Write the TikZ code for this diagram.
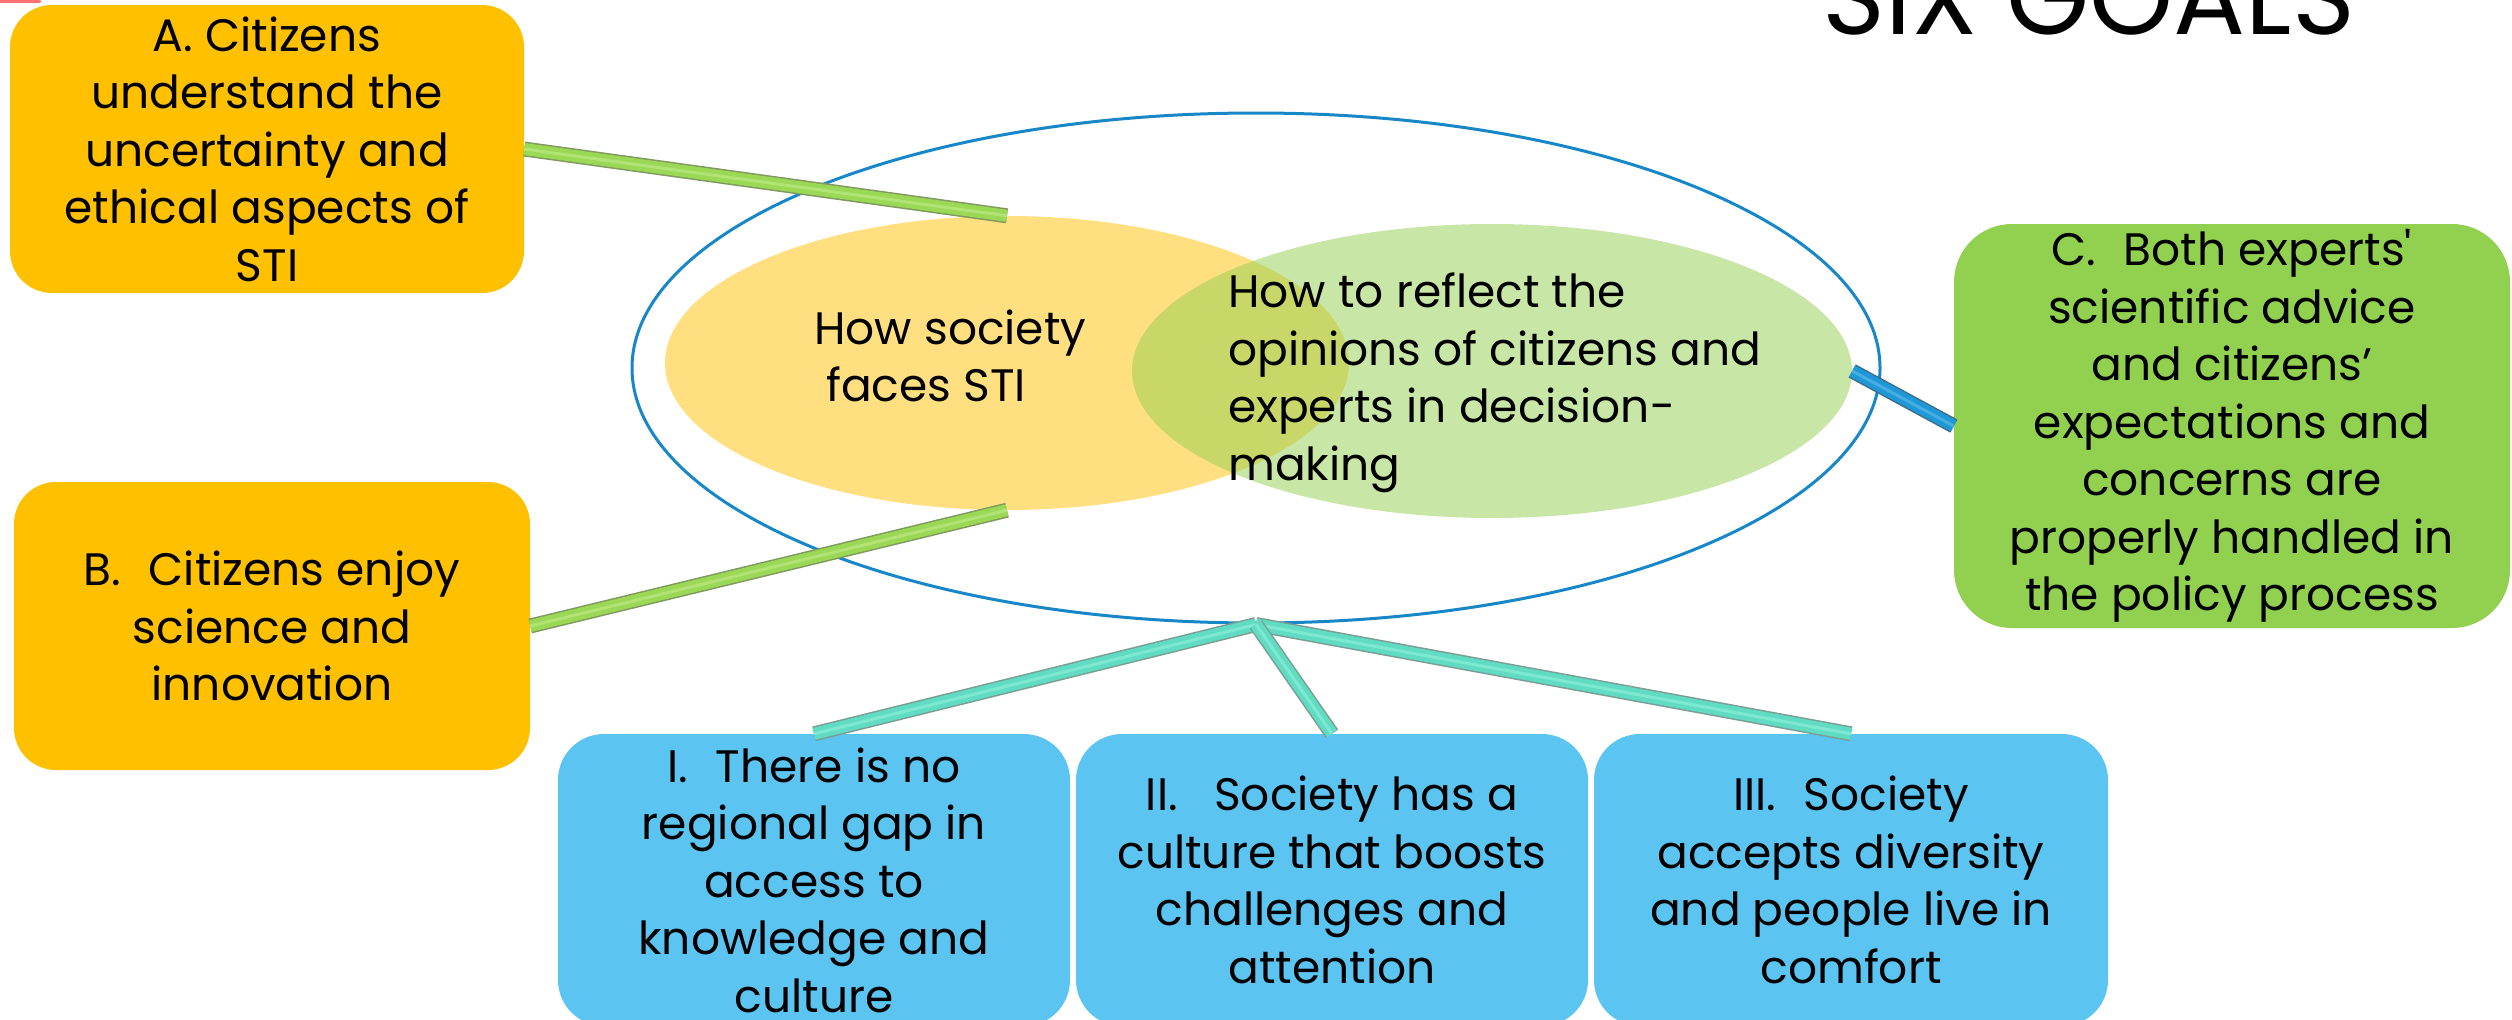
\documentclass[tikz,border=0pt]{standalone}
\usepackage{fontspec}
\setmainfont{Poppins}
\usetikzlibrary{shapes.geometric}
\definecolor{orangeBox}{HTML}{FFC000}
\definecolor{greenBox}{HTML}{92D050}
\definecolor{blueBox}{HTML}{5BC4F1}
\definecolor{ringBlue}{HTML}{1787C8}
\definecolor{tubeGreen}{HTML}{9AD856}
\definecolor{tubeGreenHi}{HTML}{BDE884}
\definecolor{tubeGreenOut}{HTML}{7F9A5E}
\definecolor{tubeBlue}{HTML}{1E98D6}
\definecolor{tubeBlueHi}{HTML}{5AB8E6}
\definecolor{tubeBlueOut}{HTML}{3A6F90}
\definecolor{tubeTeal}{HTML}{5FDCC2}
\definecolor{tubeTealHi}{HTML}{8EEEDB}
\definecolor{tubeTealOut}{HTML}{7A9E96}
\newcommand{\bodyfont}{\fontsize{45.5}{57.5}\selectfont}
\newcommand{\drawtube}[5]{%
  \draw[line width=15pt, draw=#1, line cap=butt] (#4) -- (#5);
  \draw[line width=12pt, draw=#2, line cap=butt] (#4) -- (#5);
  \draw[line width=3pt, draw=#3, line cap=butt, opacity=0.7] (#4) -- (#5);
}
\begin{document}
\begin{tikzpicture}[x=1pt,y=-1pt,
  box/.style={rectangle, rounded corners=#1, inner sep=0pt, align=center, font=\bodyfont},
  box/.default=44pt,
  blob/.style={ellipse, inner sep=0pt, fill opacity=0.5, draw=none},
  txt/.style={inner sep=0pt, font=\bodyfont}]
\useasboundingbox (0,0) rectangle (2512,1020);
\clip (0,0) rectangle (2512,1020);
\fill[white] (0,0) rectangle (2512,1020);
% faint red remnant at top-left
\draw[red!55!white, line width=3pt, line cap=round] (0,1) -- (40,1);
% title
\node[inner sep=0pt, anchor=base west, font=\fontsize{107}{118}\selectfont] (title) at (1822,34) {SIX GOALS};
% outer ring and venn
\node[ellipse, draw=ringBlue, line width=3pt, inner sep=0pt, minimum width=1248pt, minimum height=510pt] (ring) at (1256,368) {};
\node[blob, fill=orangeBox, minimum width=684pt, minimum height=294pt] (yel) at (1007,363) {};
\node[blob, fill=greenBox, minimum width=720pt, minimum height=294pt] (grn) at (1492,371) {};
\node[txt, align=left, anchor=west] (yeltxt) at (814,356) {How society\\\hspace{12pt}faces STI};
\node[txt, align=left, anchor=west] (grntxt) at (1228,383) {How to reflect the\\opinions of citizens and\\experts in decision-\\making};
% boxes
\node[box=42pt, fill=orangeBox, minimum width=514pt, minimum height=288pt] (A) at (267,149)
  {A. Citizens\\understand the\\uncertainty and\\ethical aspects of\\STI};
\node[box=42pt, fill=orangeBox, minimum width=516pt, minimum height=288pt] (B) at (272,626)
  {B.\hspace{0.6em}Citizens enjoy\\science and\\innovation};
\node[box=58pt, fill=greenBox, minimum width=556pt, minimum height=404pt] (C) at (2232,426)
  {C.\hspace{0.6em}Both experts\textquotesingle\\scientific advice\\and citizens’\\expectations and\\concerns are\\properly handled in\\the policy process};
\node[box=46pt, fill=blueBox, minimum width=512pt, minimum height=292pt] (I) at (814,880)
  {I.\hspace{0.6em}There is no\\regional gap in\\access to\\knowledge and\\culture};
\node[box=46pt, fill=blueBox, minimum width=512pt, minimum height=292pt] (II) at (1332,880)
  {II.\hspace{0.8em}Society has a\\culture that boosts\\challenges and\\attention};
\node[box=46pt, fill=blueBox, minimum width=514pt, minimum height=292pt] (III) at (1851,880)
  {III.\hspace{0.6em}Society\\accepts diversity\\and people live in\\comfort};
% connectors
\drawtube{tubeGreenOut}{tubeGreen}{tubeGreenHi}{A.east}{yel.north}
\drawtube{tubeGreenOut}{tubeGreen}{tubeGreenHi}{B.east}{yel.south}
\drawtube{tubeBlueOut}{tubeBlue}{tubeBlueHi}{grn.east}{C.west}
\drawtube{tubeTealOut}{tubeTeal}{tubeTealHi}{ring.south}{I.north}
\drawtube{tubeTealOut}{tubeTeal}{tubeTealHi}{ring.south}{III.north}
\drawtube{tubeTealOut}{tubeTeal}{tubeTealHi}{ring.south}{II.north}
\end{tikzpicture}
\end{document}
